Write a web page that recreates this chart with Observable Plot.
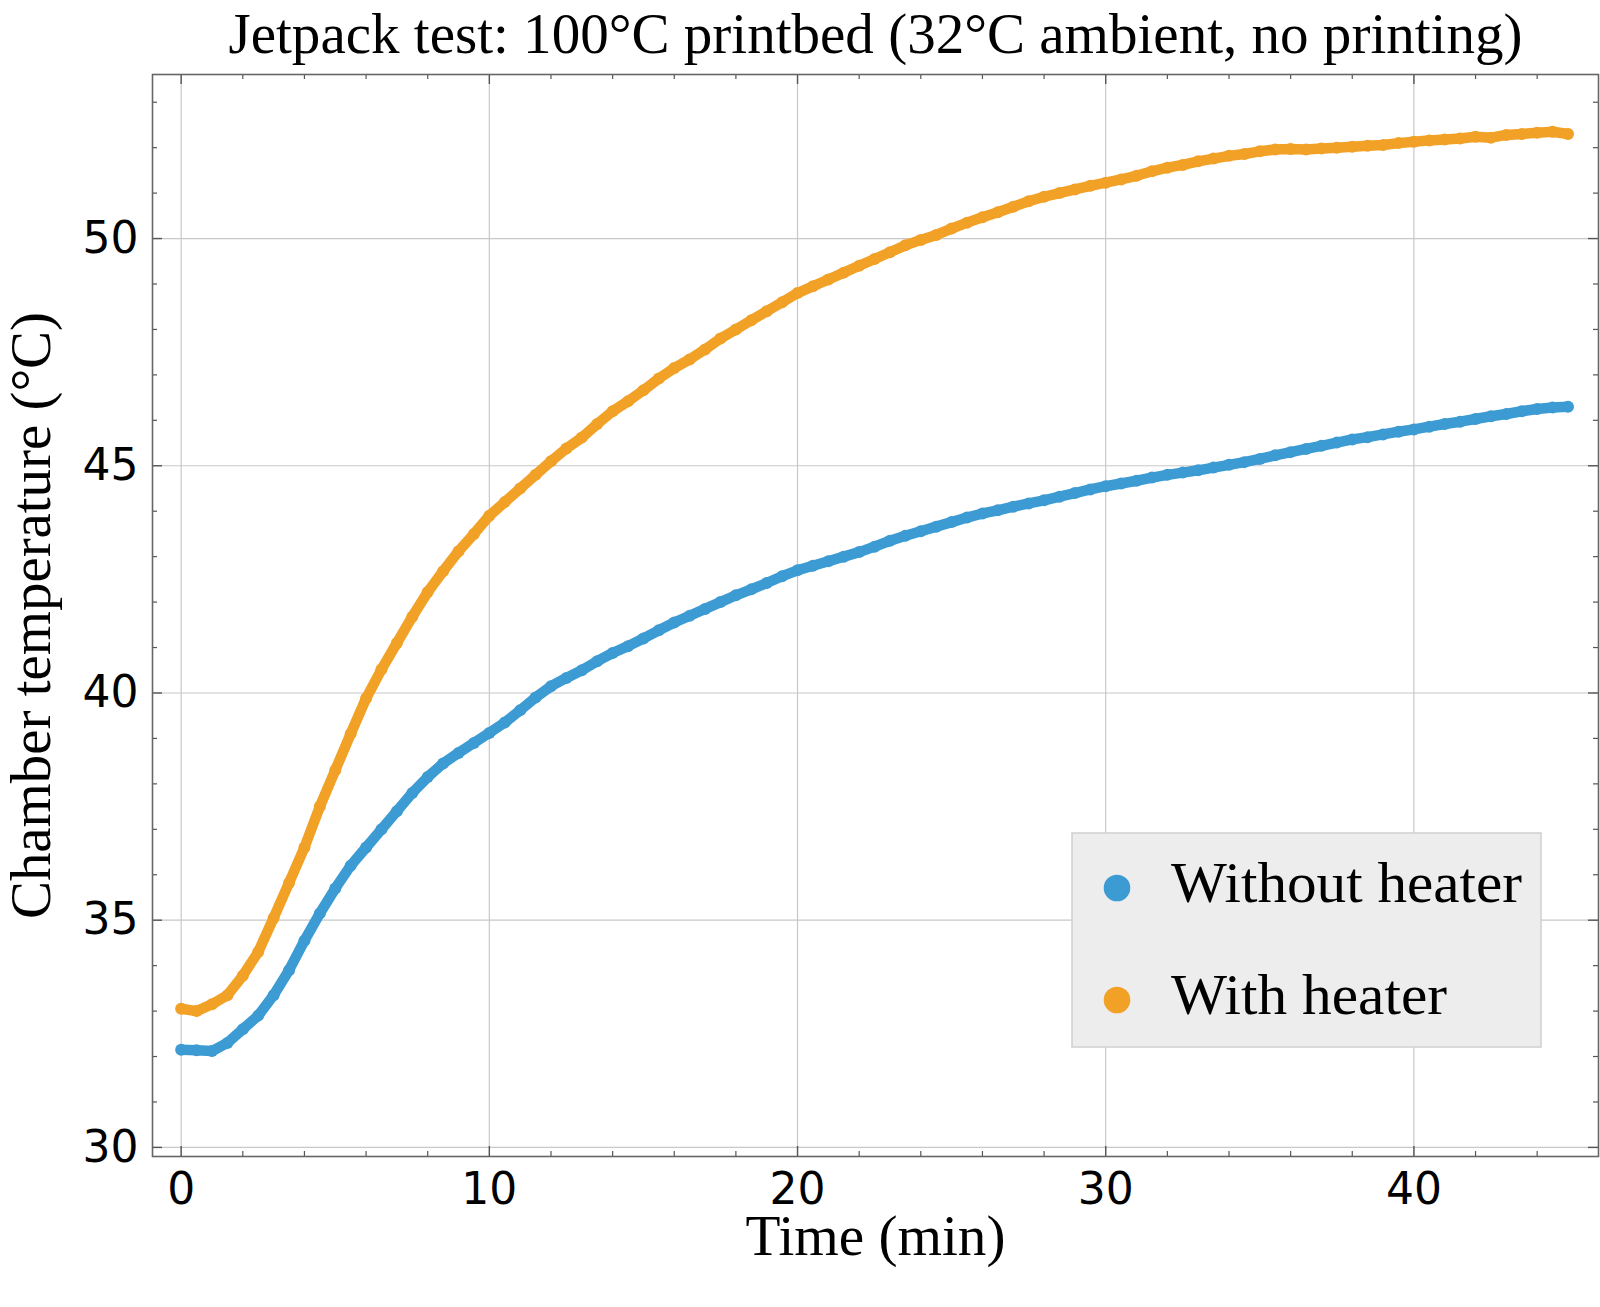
<!DOCTYPE html>
<html><head><meta charset="utf-8">
<script src="https://cdn.jsdelivr.net/npm/d3@7"></script>
<script src="https://cdn.jsdelivr.net/npm/@observablehq/plot@0.6"></script>
<style>body{margin:0;background:#fff}</style>
</head><body><div id="chart"></div>
<script>
const time = [0,0.5,1,1.5,2,2.5,3,3.5,4,4.5,5,5.5,6,6.5,7,7.5,8,8.5,9,9.5,10,10.5,11,11.5,12,12.5,13,13.5,14,14.5,15,15.5,16,16.5,17,17.5,18,18.5,19,19.5,20,20.5,21,21.5,22,22.5,23,23.5,24,24.5,25,25.5,26,26.5,27,27.5,28,28.5,29,29.5,30,30.5,31,31.5,32,32.5,33,33.5,34,34.5,35,35.5,36,36.5,37,37.5,38,38.5,39,39.5,40,40.5,41,41.5,42,42.5,43,43.5,44,44.5,45];
const withoutHeater = [32.15,32.14,32.12,32.3,32.6,32.9,33.35,33.9,34.55,35.15,35.7,36.2,36.6,37.0,37.4,37.8,38.15,38.45,38.68,38.9,39.12,39.35,39.62,39.9,40.15,40.33,40.5,40.7,40.88,41.03,41.2,41.38,41.55,41.7,41.85,42.0,42.15,42.28,42.42,42.57,42.7,42.8,42.9,43.0,43.1,43.22,43.35,43.46,43.56,43.66,43.76,43.86,43.95,44.02,44.1,44.17,44.24,44.32,44.4,44.48,44.55,44.61,44.67,44.74,44.8,44.85,44.9,44.96,45.02,45.08,45.15,45.23,45.3,45.37,45.44,45.51,45.58,45.63,45.69,45.75,45.8,45.86,45.92,45.97,46.03,46.09,46.14,46.2,46.25,46.28,46.3];
const withHeater = [33.05,33.0,33.15,33.35,33.78,34.3,35.05,35.82,36.6,37.5,38.3,39.1,39.88,40.52,41.1,41.68,42.22,42.68,43.12,43.5,43.9,44.2,44.5,44.8,45.1,45.38,45.62,45.92,46.2,46.42,46.66,46.92,47.15,47.34,47.56,47.8,48.0,48.2,48.4,48.6,48.8,48.95,49.1,49.25,49.4,49.55,49.7,49.85,49.97,50.08,50.22,50.35,50.47,50.58,50.7,50.82,50.92,51.0,51.08,51.16,51.23,51.3,51.38,51.48,51.56,51.62,51.7,51.76,51.82,51.86,51.92,51.96,51.97,51.96,51.98,52.0,52.02,52.04,52.06,52.1,52.13,52.16,52.18,52.2,52.24,52.22,52.28,52.3,52.33,52.35,52.3];
const seriesNames = ["Without heater", "With heater"];
const seriesColors = ["#3d9bd3", "#f2a127"];
const xTicks = [0, 10, 20, 30, 40];
const xMinorTicks = [2, 4, 6, 8, 12, 14, 16, 18, 22, 24, 26, 28, 32, 34, 36, 38, 42, 44];
const yTicks = [30, 35, 40, 45, 50];
const yMinorTicks = [31, 32, 33, 34, 36, 37, 38, 39, 41, 42, 43, 44, 46, 47, 48, 49, 51, 52, 53];
const titleText = "Jetpack test: 100\u00B0C printbed (32\u00B0C ambient, no printing)";
const xLabel = "Time (min)";
const yLabel = "Chamber temperature (\u00B0C)";

const rows = [];
time.forEach((t, i) => rows.push({t, v: withoutHeater[i], s: seriesNames[0]}));
time.forEach((t, i) => rows.push({t, v: withHeater[i], s: seriesNames[1]}));

const W = 1600, H = 1307, mL = 152, mR = 2, mT = 74, mB = 151;
const fw = W - mL - mR, fh = H - mT - mB;
const tickColor = "#555";
const serif = "'Liberation Serif', 'DejaVu Serif', serif";

const chart = Plot.plot({
  width: W, height: H,
  marginLeft: mL, marginRight: mR, marginTop: mT, marginBottom: mB,
  x: {domain: [-0.93, 45.99]},
  y: {domain: [29.8, 53.61]},
  color: {domain: seriesNames, range: seriesColors},
  style: {fontFamily: "DejaVu Sans", fontSize: "44px", background: "white", color: "black", overflow: "visible"},
  marks: [
    Plot.gridX(xTicks, {stroke: "#c8c8c8", strokeOpacity: 1, strokeWidth: 1.2}),
    Plot.gridY(yTicks, {stroke: "#c8c8c8", strokeOpacity: 1, strokeWidth: 1.2}),
    Plot.line(rows, {x: "t", y: "v", z: "s", stroke: "s", strokeWidth: 10.5}),
    Plot.dot(rows, {x: "t", y: "v", fill: "s", r: 6}),
    // inward ticks on all four sides
    Plot.ruleX(xTicks, {stroke: tickColor, strokeWidth: 1.4, insetTop: fh - 10}),
    Plot.ruleX(xTicks, {stroke: tickColor, strokeWidth: 1.4, insetBottom: fh - 10}),
    Plot.ruleX(xMinorTicks, {stroke: tickColor, strokeWidth: 1.2, insetTop: fh - 5}),
    Plot.ruleX(xMinorTicks, {stroke: tickColor, strokeWidth: 1.2, insetBottom: fh - 5}),
    Plot.ruleY(yTicks, {stroke: tickColor, strokeWidth: 1.4, insetRight: fw - 10}),
    Plot.ruleY(yTicks, {stroke: tickColor, strokeWidth: 1.4, insetLeft: fw - 10}),
    Plot.ruleY(yMinorTicks, {stroke: tickColor, strokeWidth: 1.2, insetRight: fw - 5}),
    Plot.ruleY(yMinorTicks, {stroke: tickColor, strokeWidth: 1.2, insetLeft: fw - 5}),
    Plot.axisX(xTicks, {anchor: "bottom", tickSize: 0, tickPadding: 16, label: null, fontSize: 44}),
    Plot.axisY(yTicks, {anchor: "left", tickSize: 0, tickPadding: 14, label: null, fontSize: 44}),
    Plot.frame({stroke: "#666", strokeWidth: 1.6}),
    Plot.text([titleText], {frameAnchor: "top", dy: -39.5, lineAnchor: "middle", textAnchor: "middle", fontFamily: serif, fontSize: 56, fill: "black"}),
    Plot.text([xLabel], {frameAnchor: "bottom", dy: 81, lineAnchor: "middle", textAnchor: "middle", fontFamily: serif, fontSize: 56, fill: "black"}),
    Plot.text([yLabel], {frameAnchor: "left", dx: -120, rotate: -90, lineAnchor: "middle", textAnchor: "middle", fontFamily: serif, fontSize: 56, fill: "black"})
  ]
});

const svg = d3.select(chart);
const fit = {};
fit[titleText] = 1294; fit[xLabel] = 260; fit[yLabel] = 607;
svg.selectAll("text").each(function() {
  const s = this.textContent;
  if (fit[s]) d3.select(this).attr("textLength", fit[s]).attr("lengthAdjust", "spacingAndGlyphs");
});

// legend
const lg = svg.append("g");
lg.append("rect").attr("x", 1072).attr("y", 833).attr("width", 469).attr("height", 214)
  .attr("fill", "#ededed").attr("stroke", "#d0d0d0").attr("stroke-width", 1.5);
const legendLens = [351, 276];
seriesNames.forEach((name, i) => {
  const cy = 888 + i * 112;
  lg.append("circle").attr("cx", 1117).attr("cy", cy).attr("r", 13.3).attr("fill", seriesColors[i]);
  lg.append("text").attr("x", 1171).attr("y", cy + 14).attr("text-anchor", "start")
    .attr("font-family", serif).attr("font-size", 57).attr("fill", "black")
    .attr("textLength", legendLens[i]).attr("lengthAdjust", "spacingAndGlyphs")
    .text(name);
});

document.getElementById("chart").appendChild(chart);
</script>
</body></html>
